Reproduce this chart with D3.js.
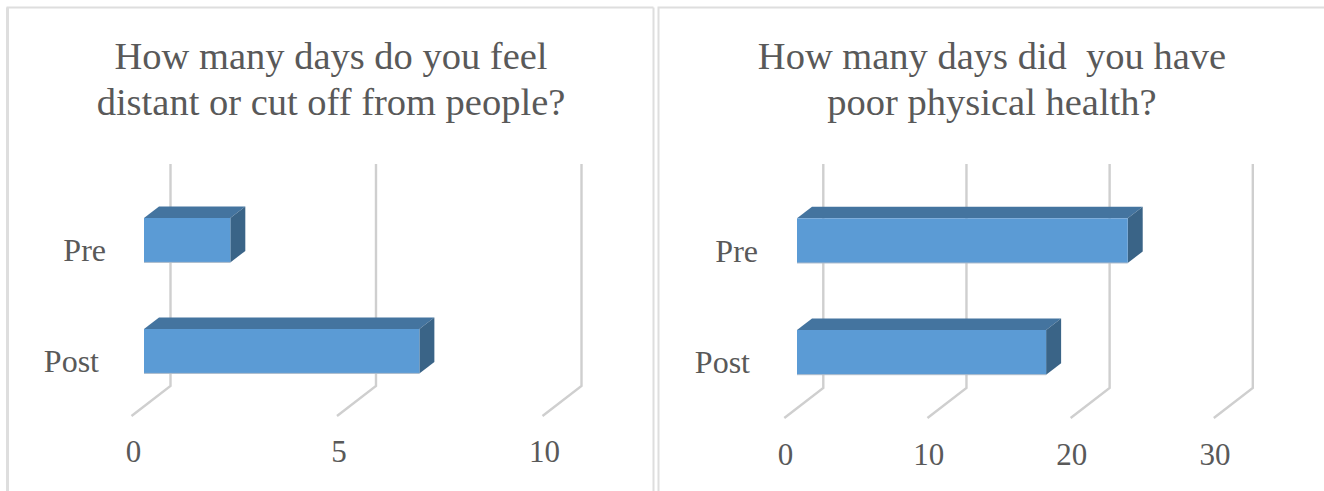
<!DOCTYPE html>
<html>
<head>
<meta charset="utf-8">
<script src="https://cdn.jsdelivr.net/npm/d3@7"></script>
<style>
  body { margin: 0; background: #fff; }
  svg { display: block; }
  text { font-family: "Liberation Serif", serif; fill: #595959; white-space: pre; }
</style>
</head>
<body>
<div id="chart"></div>
<script>
// values
const categories = ["Pre", "Post"];
const distantValues = [2.1, 6.7];
const healthValues = [23.1, 17.4];
const distantTicks = [0, 5, 10];
const healthTicks = [0, 10, 20, 30];
const distantTitle = ["How many days do you feel", "distant or cut off from people?"];
const healthTitle = ["How many days did  you have", "poor physical health?"];

const width = 1324, height = 491;
const gridColor = "#cfcfcf", frameColor = "#dedede";
const front = "#5b9bd5", topFace = "#44749f", sideFace = "#3a6487";
const depthX = 15, depthY = 11.5;

const svg = d3.select("#chart")
  .append("svg")
  .attr("width", width)
  .attr("height", height);

// panel frames, open at the bottom
function frame(x0, x1) {
  svg.append("path")
    .attr("d", `M${x0},${height}V7.5H${x1}`)
    .attr("fill", "none")
    .attr("stroke", frameColor)
    .attr("stroke-width", 2);
}
frame(7.5, 653.5);
svg.append("line")
  .attr("x1", 653.5).attr("x2", 653.5)
  .attr("y1", 7.5).attr("y2", height)
  .attr("stroke", frameColor).attr("stroke-width", 2);
frame(658.5, width);
svg.append("line")
  .attr("x1", 7.5).attr("x2", 7.5)
  .attr("y1", 7.5).attr("y2", height)
  .attr("stroke", frameColor).attr("stroke-width", 3);

function drawPanel(p) {
  const g = svg.append("g");

  const x = d3.scaleLinear()
    .domain([0, p.ticks[p.ticks.length - 1]])
    .range([p.left, p.right]);
  const y = d3.scaleBand()
    .domain(categories)
    .range([p.top, p.bottom])
    .paddingInner(0.6)
    .paddingOuter(0.3);

  // title
  g.append("text")
    .attr("text-anchor", "middle")
    .attr("font-size", 38.5)
    .selectAll("tspan")
    .data(p.title)
    .join("tspan")
    .attr("x", p.titleX)
    .attr("y", (d, i) => 69 + i * 45.5)
    .text(d => d);

  // back wall lines with the floor going forward
  g.selectAll(".grid")
    .data(p.ticks)
    .join("path")
    .attr("class", "grid")
    .attr("fill", "none")
    .attr("stroke", gridColor)
    .attr("stroke-width", 2.4)
    .attr("d", d => `M${x(d) + p.wallDx},164V${p.floor}L${x(d) + p.wallDx - 39},${p.floor + 30}`);

  // value labels
  const xAxis = d3.axisBottom(x).tickValues(p.ticks).tickSize(0).tickFormat(d3.format("d"));
  g.append("g")
    .attr("transform", `translate(${p.labelDx},${p.labelY})`)
    .call(xAxis)
    .call(a => a.select(".domain").remove())
    .selectAll("text")
    .attr("y", 0).attr("dy", 0)
    .attr("font-size", 31);

  // category labels
  const yAxis = d3.axisLeft(y).tickSize(0);
  g.append("g")
    .attr("transform", `translate(${p.left},0)`)
    .call(yAxis)
    .call(a => a.select(".domain").remove())
    .selectAll("text")
    .attr("x", d => p.catX[d] - p.left)
    .attr("dy", 21)
    .attr("font-size", 32);

  // 3d bars
  const bars = g.selectAll(".bar")
    .data(p.values)
    .join("g")
    .attr("class", "bar");
  const yAt = (d, i) => y(categories[i]);

  bars.append("path")
    .attr("fill", topFace)
    .attr("d", (d, i) => `M${x(0)},${yAt(d, i)}l${depthX},${-depthY}H${x(d) + depthX}l${-depthX},${depthY}Z`);
  bars.append("path")
    .attr("fill", sideFace)
    .attr("d", (d, i) => `M${x(d)},${yAt(d, i)}l${depthX},${-depthY}v${y.bandwidth()}l${-depthX},${depthY}Z`);
  bars.append("rect")
    .attr("x", x(0))
    .attr("y", (d, i) => yAt(d, i))
    .attr("width", d => x(d) - x(0))
    .attr("height", y.bandwidth())
    .attr("fill", front);
  // thin light edge under the front face
  bars.append("line")
    .attr("x1", x(0))
    .attr("x2", d => x(d))
    .attr("y1", (d, i) => yAt(d, i) + y.bandwidth())
    .attr("y2", (d, i) => yAt(d, i) + y.bandwidth())
    .attr("stroke", "#aebccb")
    .attr("stroke-width", 1);
}

drawPanel({
  title: distantTitle, titleX: 331,
  values: distantValues, ticks: distantTicks,
  left: 144, right: 555, wallDx: 26.5, floor: 386,
  top: 184.7, bottom: 406.7,
  labelDx: -11, labelY: 462,
  catX: { Pre: 106, Post: 99 }
});

drawPanel({
  title: healthTitle, titleX: 992,
  values: healthValues, ticks: healthTicks,
  left: 797, right: 1226.5, wallDx: 26.3, floor: 388,
  top: 184.8, bottom: 408.2,
  labelDx: -12, labelY: 465,
  catX: { Pre: 758, Post: 750 }
});
</script>
</body>
</html>
